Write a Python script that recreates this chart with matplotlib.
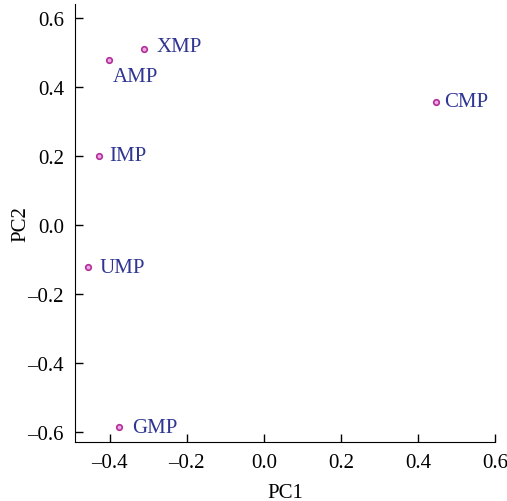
import matplotlib
matplotlib.use("Agg")
import matplotlib.pyplot as plt
from matplotlib.ticker import FuncFormatter

names = ["XMP", "AMP", "IMP", "UMP", "GMP", "CMP"]
pc1 = [-0.312, -0.403, -0.429, -0.455, -0.377, 0.447]
pc2 = [0.510, 0.478, 0.200, -0.122, -0.586, 0.357]
# label offsets in points
offs = [(9, 2), (3, -12), (8, 0), (8, 0), (10, 0), (6, 0)]

plt.rcParams["font.family"] = ["Liberation Serif", "DejaVu Serif"]
plt.rcParams["font.size"] = 15


def fmt(v, pos):
    s = "%.1f" % abs(v)
    return ("\u2013" + s) if v < -1e-9 else s


fig = plt.figure(figsize=(5.07, 5.02), dpi=100)
ax = fig.add_axes([75 / 507, 59 / 502, 420 / 507, 438 / 502])

ax.scatter(pc1, pc2, s=16, facecolor="#f0a8e0", edgecolor="#b0309a", linewidth=1.2, zorder=3)
for n, x, y, o in zip(names, pc1, pc2, offs):
    ax.annotate(n, (x, y), xytext=o, textcoords="offset points",
                ha="left", va="center", color="#2e3592", fontsize=15)

ax.set_xlim(-0.49, 0.6)
ax.set_ylim(-0.629, 0.64)
ax.set_xticks([-0.4, -0.2, 0.0, 0.2, 0.4, 0.6])
ax.set_yticks([-0.6, -0.4, -0.2, 0.0, 0.2, 0.4, 0.6])
ax.xaxis.set_major_formatter(FuncFormatter(fmt))
ax.yaxis.set_major_formatter(FuncFormatter(fmt))
ax.tick_params(direction="in", length=6, width=1, labelsize=15, pad=8)
for s in ["top", "right"]:
    ax.spines[s].set_visible(False)
ax.set_xlabel("PC1", fontsize=15, labelpad=8)
ax.set_ylabel("PC2", fontsize=15, labelpad=-2)

fig.savefig("out.png", dpi=100)
